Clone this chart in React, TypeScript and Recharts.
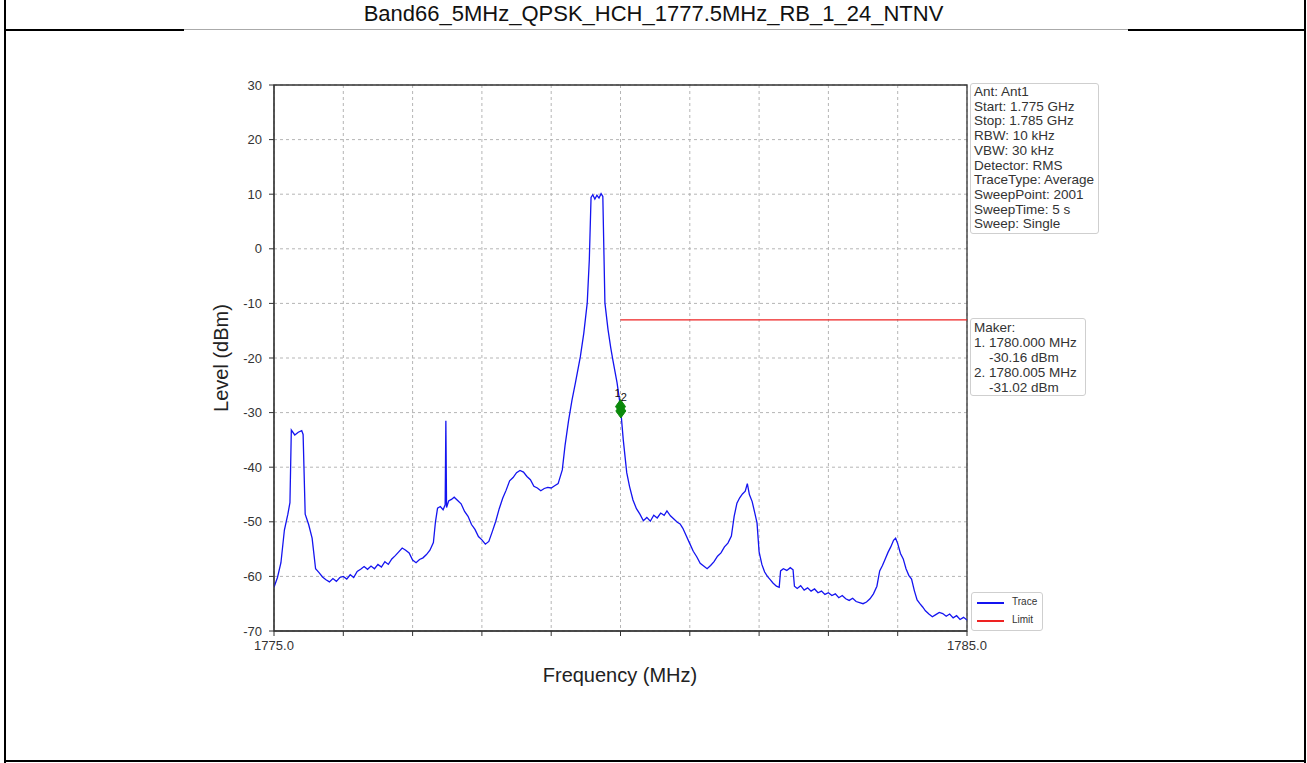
import React from 'react';
import { ComposedChart, Line, Scatter, XAxis, YAxis, CartesianGrid, ReferenceArea } from 'recharts';

const TITLE = 'Band66_5MHz_QPSK_HCH_1777.5MHz_RB_1_24_NTNV';

// trace, one row per MHz
const FREQ_MHZ = [
  1775.00, 1775.05, 1775.10, 1775.15, 1775.20, 1775.23, 1775.25, 1775.30, 1775.35, 1775.40, 1775.42, 1775.45, 1775.50, 1775.55, 1775.60, 1775.65, 1775.70, 1775.75, 1775.80, 1775.85, 1775.90, 1775.95,
  1776.00, 1776.05, 1776.10, 1776.15, 1776.20, 1776.25, 1776.30, 1776.35, 1776.40, 1776.45, 1776.50, 1776.55, 1776.60, 1776.65, 1776.70, 1776.75, 1776.80, 1776.85, 1776.90, 1776.95,
  1777.00, 1777.05, 1777.10, 1777.15, 1777.20, 1777.25, 1777.30, 1777.33, 1777.36, 1777.40, 1777.44, 1777.47, 1777.48, 1777.49, 1777.52, 1777.56, 1777.60, 1777.65, 1777.70, 1777.75, 1777.80, 1777.85, 1777.90, 1777.95,
  1778.00, 1778.05, 1778.10, 1778.15, 1778.20, 1778.25, 1778.30, 1778.35, 1778.40, 1778.45, 1778.50, 1778.55, 1778.60, 1778.65, 1778.70, 1778.75, 1778.80, 1778.85, 1778.90, 1778.95,
  1779.00, 1779.05, 1779.10, 1779.16, 1779.20, 1779.25, 1779.30, 1779.35, 1779.42, 1779.47, 1779.52, 1779.55, 1779.575, 1779.60, 1779.63, 1779.66, 1779.69, 1779.72, 1779.745, 1779.775, 1779.82, 1779.86, 1779.89, 1779.95,
  1780.00, 1780.04, 1780.09, 1780.13, 1780.18, 1780.23, 1780.28, 1780.33, 1780.38, 1780.43, 1780.48, 1780.53, 1780.58, 1780.63, 1780.67, 1780.72, 1780.77, 1780.82, 1780.86, 1780.90, 1780.95,
  1781.00, 1781.05, 1781.10, 1781.15, 1781.20, 1781.25, 1781.30, 1781.35, 1781.40, 1781.45, 1781.50, 1781.55, 1781.60, 1781.64, 1781.68, 1781.72, 1781.76, 1781.80, 1781.83, 1781.86, 1781.90, 1781.94, 1781.97,
  1782.00, 1782.04, 1782.08, 1782.12, 1782.16, 1782.20, 1782.25, 1782.29, 1782.31, 1782.35, 1782.40, 1782.45, 1782.49, 1782.51, 1782.55, 1782.60, 1782.65, 1782.70, 1782.75, 1782.80, 1782.85, 1782.90, 1782.95,
  1783.00, 1783.05, 1783.10, 1783.15, 1783.20, 1783.25, 1783.30, 1783.35, 1783.40, 1783.45, 1783.50, 1783.55, 1783.60, 1783.65, 1783.70, 1783.74, 1783.78, 1783.82, 1783.86, 1783.90, 1783.94, 1783.97,
  1784.00, 1784.04, 1784.08, 1784.12, 1784.16, 1784.20, 1784.24, 1784.28, 1784.32, 1784.36, 1784.40, 1784.45, 1784.50, 1784.55, 1784.60, 1784.65, 1784.70, 1784.75, 1784.80, 1784.85, 1784.90, 1784.95, 1785.00,
];

const LEVEL_DBM = [
  -62.0, -60.2, -57.5, -51.5, -48.6, -46.5, -33.2, -34.1, -33.6, -33.3, -34.0, -48.6, -50.5, -53.0, -58.6, -59.3, -60.1, -60.6, -61.0, -60.4, -60.9, -60.2,
  -60.0, -60.5, -59.7, -60.2, -59.1, -58.7, -58.2, -58.7, -58.1, -58.6, -57.8, -58.3, -57.3, -57.8, -56.8, -56.2, -55.5, -54.8, -55.2, -55.7,
  -57.0, -57.5, -56.9, -56.6, -56.0, -55.2, -53.8, -50.0, -47.5, -47.2, -47.8, -46.9, -31.5, -47.4, -46.2, -45.9, -45.5, -46.1, -46.7, -48.1, -49.0, -50.5, -51.4, -52.7,
  -53.3, -54.1, -53.6, -51.8, -49.9, -47.6, -45.7, -44.2, -42.5, -41.9, -41.0, -40.6, -40.9, -41.7, -42.3, -43.5, -43.8, -44.3, -43.9, -43.7,
  -43.8, -43.4, -43.0, -40.5, -36.0, -31.5, -27.7, -24.5, -19.8, -15.5, -9.9, -2.0, 9.4, 9.9, 9.1, 9.8, 9.3, 10.1, 9.6, -9.9, -14.8, -18.2, -20.4, -24.5,
  -29.0, -35.0, -41.0, -43.5, -46.0, -47.6, -48.6, -49.8, -49.2, -49.9, -48.8, -49.3, -48.4, -48.8, -48.0, -48.9, -49.5, -50.1, -50.4, -51.2, -52.6,
  -54.0, -55.4, -56.4, -57.6, -58.1, -58.6, -58.0, -57.3, -56.3, -55.7, -54.6, -53.9, -52.6, -49.0, -46.6, -45.6, -44.9, -44.4, -43.0, -45.0, -46.3, -48.5, -50.2,
  -55.5, -57.8, -59.2, -60.0, -60.6, -61.2, -61.8, -62.0, -59.0, -58.6, -58.9, -58.4, -58.8, -61.8, -62.2, -61.7, -62.5, -62.1, -62.7, -62.3, -63.0, -62.7, -63.3,
  -63.0, -63.5, -63.2, -63.9, -63.5, -64.1, -64.4, -64.0, -64.6, -64.8, -65.0, -64.7, -64.1, -63.2, -61.8, -59.0, -58.0, -56.8, -55.6, -54.6, -53.4, -53.0,
  -54.0, -55.8, -56.8, -58.6, -59.8, -60.5, -62.6, -64.3, -65.0, -65.6, -66.3, -66.9, -67.4, -67.0, -66.6, -66.8, -67.3, -66.9, -67.6, -67.2, -67.9, -67.5, -68.0,
];

const LIMIT_FREQ = [1780.0, 1785.0];
const LIMIT_DBM = [-13, -13];

const MARKER_FREQ = [1780.0, 1780.005];
const MARKER_DBM = [-28.9, -29.7];
const MARKER_NAME = ['1', '2'];

const X_TICKS = [1775, 1776, 1777, 1778, 1779, 1780, 1781, 1782, 1783, 1784, 1785];
const Y_TICKS = [-70, -60, -50, -40, -30, -20, -10, 0, 10, 20, 30];

const INFO_LINES = [
  'Ant: Ant1',
  'Start: 1.775 GHz',
  'Stop: 1.785 GHz',
  'RBW: 10 kHz',
  'VBW: 30 kHz',
  'Detector: RMS',
  'TraceType: Average',
  'SweepPoint: 2001',
  'SweepTime: 5 s',
  'Sweep: Single',
];
const MARKER_LINES = ['Maker:', '1. 1780.000 MHz', '    -30.16 dBm', '2. 1780.005 MHz', '    -31.02 dBm'];

const traceData = FREQ_MHZ.map((f, i) => ({ freq: f, level: LEVEL_DBM[i] }));
const limitData = LIMIT_FREQ.map((f, i) => ({ freq: f, limit: LIMIT_DBM[i] }));
const markerData = MARKER_FREQ.map((f, i) => ({ freq: f, mark: MARKER_DBM[i], name: MARKER_NAME[i] }));

const FONT = '"Liberation Sans", Arial, sans-serif';

const MarkerShape = (props: any) => {
  const { cx, cy, payload } = props;
  // labels sit side by side just above the diamonds
  const dx = payload.name === '1' ? -3 : 3;
  return (
    <g>
      <path d={`M${cx},${cy - 7} L${cx + 5},${cy} L${cx},${cy + 7} L${cx - 5},${cy} Z`} fill="#0b8a0b" stroke="#0b8a0b" />
      <text x={cx + dx} y={cy - 10} textAnchor="middle" fontSize={11} fontFamily={FONT} fill="#111">
        {payload.name}
      </text>
    </g>
  );
};

const boxStyle: React.CSSProperties = {
  position: 'absolute',
  border: '1px solid #cfcfcf',
  borderRadius: 3,
  background: '#fff',
  fontFamily: FONT,
  color: '#333',
  boxSizing: 'border-box',
  whiteSpace: 'pre',
};

export default function App() {
  return (
    <div style={{ position: 'absolute', left: 0, top: 0, width: 1307, height: 763, background: '#fff', fontFamily: FONT }}>
      {/* table frame */}
      <div style={{ position: 'absolute', left: 4, top: 0, width: 2, height: 763, background: '#000' }} />
      <div style={{ position: 'absolute', left: 1304, top: 0, width: 2, height: 763, background: '#000' }} />
      <div style={{ position: 'absolute', left: 4, top: 760, width: 1302, height: 2, background: '#000' }} />
      <div style={{ position: 'absolute', left: 4, top: 29, width: 180, height: 2, background: '#000' }} />
      <div style={{ position: 'absolute', left: 184, top: 29, width: 944, height: 1, background: '#aaa' }} />
      <div style={{ position: 'absolute', left: 1128, top: 29, width: 178, height: 2, background: '#000' }} />
      <div style={{ position: 'absolute', left: 0, top: 1, width: 1307, textAlign: 'center', fontSize: 22, color: '#111' }}>
        {TITLE}
      </div>

      <div style={{ position: 'absolute', left: 0, top: 0 }}>
        <ComposedChart width={1307} height={763} data={traceData} margin={{ top: 85, right: 340, bottom: 102, left: 214 }}>
          <CartesianGrid stroke="#b5b5b5" strokeDasharray="3 3" />
          <XAxis
            type="number"
            dataKey="freq"
            domain={[1775, 1785]}
            ticks={X_TICKS}
            allowDataOverflow
            height={30}
            tickSize={5}
            tickMargin={5}
            tickFormatter={(v: number) => (v === 1775 || v === 1785 ? v.toFixed(1) : '')}
            tick={{ fontSize: 13, fill: '#333', fontFamily: FONT }}
            stroke="#333"
          />
          <YAxis
            type="number"
            domain={[-70, 30]}
            ticks={Y_TICKS}
            allowDataOverflow
            width={60}
            tickSize={5}
            tickMargin={7}
            tick={{ fontSize: 13, fill: '#333', fontFamily: FONT }}
            stroke="#333"
          />
          <ReferenceArea x1={1775} x2={1785} y1={-70} y2={30} fill="none" stroke="#333" strokeWidth={1.3} />
          <Line data={traceData} dataKey="level" stroke="#1414f0" strokeWidth={1.3} dot={false} isAnimationActive={false} />
          <Line data={limitData} dataKey="limit" stroke="#ee2222" strokeWidth={1.2} dot={false} isAnimationActive={false} />
          <Scatter data={markerData} dataKey="mark" shape={MarkerShape} isAnimationActive={false} />
        </ComposedChart>
      </div>

      <div style={{ position: 'absolute', left: 0, top: 0, width: 1307, pointerEvents: 'none' }}>
        <div style={{ position: 'absolute', left: 470, top: 664, width: 300, textAlign: 'center', fontSize: 20, color: '#222' }}>
          Frequency (MHz)
        </div>
        <div
          style={{
            position: 'absolute',
            left: 72,
            top: 346,
            width: 300,
            textAlign: 'center',
            fontSize: 20,
            color: '#222',
            transform: 'rotate(-90deg)',
            transformOrigin: '150px 12px',
          }}
        >
          Level (dBm)
        </div>
      </div>

      <div style={{ ...boxStyle, left: 970, top: 83, width: 129, height: 151, padding: '1px 3px', fontSize: 13.5, lineHeight: '14.7px' }}>
        {INFO_LINES.join('\n')}
      </div>
      <div style={{ ...boxStyle, left: 970, top: 318, width: 116, height: 78, padding: '1px 3px', fontSize: 13.5, lineHeight: '15px' }}>
        {MARKER_LINES.join('\n')}
      </div>
      <div style={{ ...boxStyle, left: 971, top: 592, width: 72, height: 39, fontSize: 10 }}>
        <div style={{ position: 'absolute', left: 5, top: 9, width: 27, height: 1.5, background: '#1414f0' }} />
        <div style={{ position: 'absolute', left: 40, top: 3 }}>Trace</div>
        <div style={{ position: 'absolute', left: 5, top: 27, width: 27, height: 1.5, background: '#ee2222' }} />
        <div style={{ position: 'absolute', left: 40, top: 21 }}>Limit</div>
      </div>
    </div>
  );
}
